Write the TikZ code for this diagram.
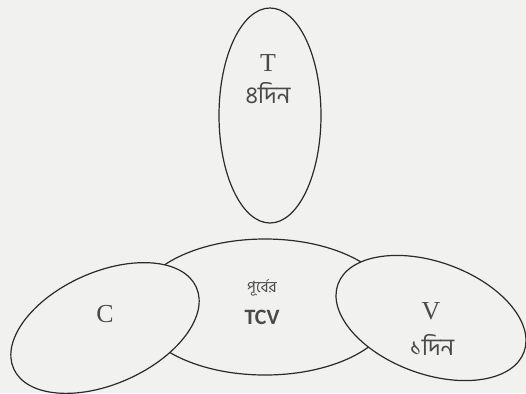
\documentclass[tikz,border=0pt]{standalone}
\usepackage{fontspec}
\setmainfont{Liberation Serif}
\newfontfamily\bnfont[Script=Bengali]{Hind Siliguri}
\newfontfamily\tcvfont{Carlito}
\usetikzlibrary{shapes.geometric}
\definecolor{paper}{HTML}{F1F1EF}
\definecolor{ink}{HTML}{2A2A2A}
\tikzset{
  oval/.style={ellipse, draw=ink, line width=1.2bp, fill=paper, inner sep=0pt},
  latin/.style={text=ink!85, font=\fontsize{26}{26}\selectfont, inner sep=0pt},
  bangla/.style={text=ink!85, font=\bnfont\fontsize{24}{24}\selectfont, inner sep=0pt},
}
\begin{document}
\begin{tikzpicture}[x=1bp,y=-1bp]
  % page
  \fill[paper] (0,0) rectangle (526,393);
  \useasboundingbox (0,0) rectangle (526,393);

  % top set
  \node[oval, minimum width=102bp, minimum height=215bp] (T) at (270,115.5) {};

  % central set, partly hidden by the two tilted sets
  \node[oval, minimum width=256bp, minimum height=136bp] (M) at (265,307) {};
  \node[oval, minimum width=200bp, minimum height=112bp, rotate=24] (C) at (105,328) {};
  \node[oval, minimum width=198bp, minimum height=112bp, rotate=-20] (V) at (431,318) {};

  % labels
  \node[latin] (tT) at (268,63) {T};
  \node[bangla] (tTd) at (268,93) {৪দিন};
  \node[latin] (tC) at (105,314) {C};
  \node[bangla, font=\bnfont\fontsize{15.5}{15.5}\selectfont] (tM) at (262,288) {পূর্বের};
  \node[text=ink!85, font=\tcvfont\bfseries\fontsize{22}{22}\selectfont, inner sep=0pt] (tTCV) at (262,317) {TCV};
  \node[latin] (tV) at (431,311) {V};
  \node[bangla] (tVd) at (432,345) {১দিন};
\end{tikzpicture}
\end{document}
